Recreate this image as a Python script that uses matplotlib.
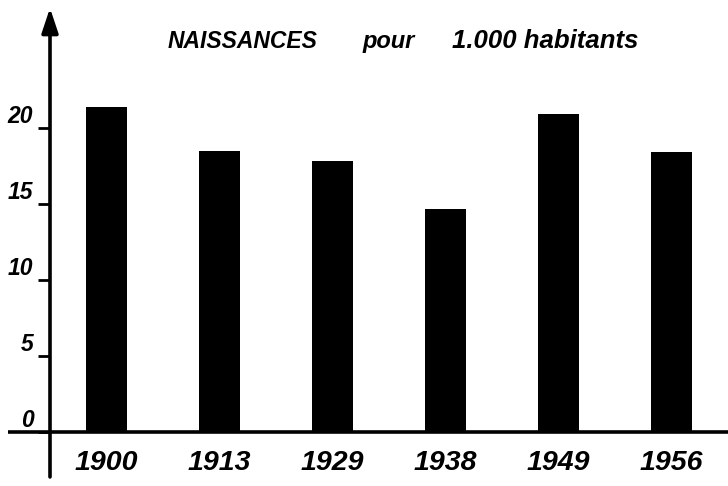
import matplotlib
matplotlib.use("Agg")
import matplotlib.pyplot as plt

years = ["1900", "1913", "1929", "1938", "1949", "1956"]
births = [21.4, 18.5, 17.8, 14.7, 20.9, 18.4]
yticks = [0, 5, 10, 15, 20]
ytick_labels = ["0", "5", "10", "15", "20"]

W, H = 728, 486
fig = plt.figure(figsize=(W / 100, H / 100), dpi=100)
fig.patch.set_facecolor("white")

font = {"family": ["Liberation Sans", "DejaVu Sans"], "weight": "bold", "style": "italic"}

ax = fig.add_axes([50 / W, (H - 432) / H, 678 / W, 424 / H])
ax.set_xlim(-0.5, 5.5)
ax.set_ylim(0, 27.9)
for s in ax.spines.values():
    s.set_visible(False)

x = list(range(len(years)))
ax.bar(x, births, width=0.37, color="black", zorder=2)

# axes lines
ax.plot([-0.062, 1.0], [0, 0], transform=ax.transAxes, color="black", lw=2.6,
        clip_on=False, zorder=3, solid_capstyle="butt")
ax.annotate("", xy=(0, 1.0), xycoords="axes fraction", xytext=(0, -0.106),
            textcoords="axes fraction",
            arrowprops=dict(arrowstyle="-|>,head_length=1.5,head_width=0.5",
                            color="black", lw=2.6, shrinkA=0, shrinkB=0),
            zorder=3, annotation_clip=False)

ax.set_yticks(yticks)
ax.set_yticklabels(ytick_labels, fontdict=dict(size=16.5, **font))
for lab in ax.get_yticklabels():
    lab.set_va("bottom")
ax.tick_params(axis="y", direction="out", length=9, width=2.0, pad=3, colors="black")

ax.set_xticks(x)
ax.set_xticklabels(years, fontdict=dict(size=20.5, **font))
ax.tick_params(axis="x", length=0, pad=13, colors="black")

# title in hand-spaced pieces
fig.text(168 / W, 1 - 48 / H, "NAISSANCES", ha="left", va="baseline", size=16.5, **font)
fig.text(363 / W, 1 - 48 / H, "pour", ha="left", va="baseline", size=17, **font)
fig.text(452 / W, 1 - 48 / H, "1.000 habitants", ha="left", va="baseline", size=18.5, **font)

fig.savefig("out.png", dpi=100, facecolor="white")
